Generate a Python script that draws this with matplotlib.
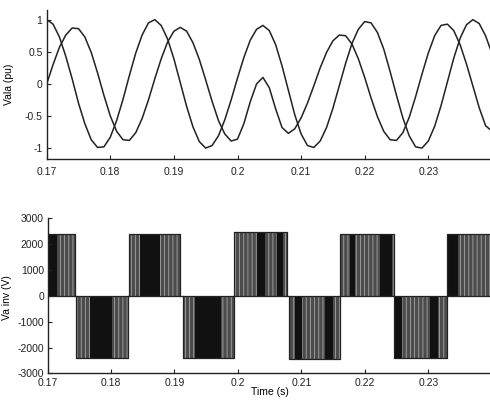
import matplotlib
matplotlib.use("Agg")
import matplotlib.pyplot as plt
import numpy as np

plt.rcParams["font.family"] = ["Liberation Sans", "DejaVu Sans"]
plt.rcParams["axes.unicode_minus"] = False
plt.rcParams["hatch.linewidth"] = 0.6

# time base of the per-unit waveforms (s), read every 1 ms
t = [0.170, 0.171, 0.172, 0.173, 0.174, 0.175, 0.176, 0.177, 0.178, 0.179,
     0.180, 0.181, 0.182, 0.183, 0.184, 0.185, 0.186, 0.187, 0.188, 0.189,
     0.190, 0.191, 0.192, 0.193, 0.194, 0.195, 0.196, 0.197, 0.198, 0.199,
     0.200, 0.201, 0.202, 0.203, 0.204, 0.205, 0.206, 0.207, 0.208, 0.209,
     0.210, 0.211, 0.212, 0.213, 0.214, 0.215, 0.216, 0.217, 0.218, 0.219,
     0.220, 0.221, 0.222, 0.223, 0.224, 0.225, 0.226, 0.227, 0.228, 0.229,
     0.230, 0.231, 0.232, 0.233, 0.234, 0.235, 0.236, 0.237, 0.238, 0.239,
     0.2398]

# first curve (starts at +1)
va_a = [1.00, 0.93, 0.73, 0.43, 0.08, -0.30, -0.62, -0.87, -0.99, -0.98,
        -0.83, -0.57, -0.24, 0.13, 0.48, 0.76, 0.95, 1.00, 0.91, 0.70,
        0.39, 0.02, -0.35, -0.67, -0.90, -1.00, -0.96, -0.81, -0.56, -0.25,
        0.09, 0.41, 0.68, 0.85, 0.91, 0.83, 0.61, 0.28, -0.10, -0.48,
        -0.78, -0.96, -0.99, -0.89, -0.68, -0.38, -0.03, 0.32, 0.63, 0.85,
        0.97, 0.95, 0.80, 0.54, 0.19, -0.18, -0.53, -0.81, -0.98, -1.00,
        -0.89, -0.66, -0.34, 0.03, 0.40, 0.71, 0.92, 1.00, 0.94, 0.75,
        0.53]

# second curve (starts at 0, disturbed near 0.204 s)
va_b = [0.00, 0.30, 0.57, 0.76, 0.87, 0.86, 0.73, 0.49, 0.17, -0.18,
        -0.50, -0.74, -0.87, -0.88, -0.76, -0.54, -0.25, 0.08, 0.39, 0.65,
        0.82, 0.88, 0.82, 0.64, 0.38, 0.06, -0.27, -0.57, -0.78, -0.89,
        -0.86, -0.62, -0.28, 0.00, 0.10, -0.06, -0.39, -0.68, -0.77, -0.70,
        -0.53, -0.30, -0.03, 0.25, 0.49, 0.67, 0.76, 0.75, 0.62, 0.39,
        0.10, -0.22, -0.51, -0.74, -0.87, -0.88, -0.76, -0.52, -0.20, 0.15,
        0.48, 0.75, 0.91, 0.93, 0.83, 0.61, 0.31, -0.03, -0.37, -0.65,
        -0.72]

# inverter output voltage: PWM blocks (start, end, level in V)
blk_start = [0.1700, 0.1745, 0.1829, 0.1913, 0.1994, 0.2081, 0.2161, 0.2246, 0.2330]
blk_end = [0.1743, 0.1827, 0.1909, 0.1994, 0.2077, 0.2161, 0.2245, 0.2329, 0.2397]
blk_level = [2400, -2400, 2400, -2400, 2470, -2460, 2400, -2400, 2400]

# densely switched (black) bands inside the blocks
dark_start = [0.1700, 0.1767, 0.1846, 0.1932, 0.2030, 0.2062, 0.2090, 0.2137,
              0.2177, 0.2224, 0.2246, 0.2303, 0.2331]
dark_end = [0.1715, 0.1802, 0.1877, 0.1974, 0.2043, 0.2071, 0.2101, 0.2150,
            0.2185, 0.2243, 0.2259, 0.2315, 0.2347]
dark_level = [2400, -2400, 2400, -2400, 2470, 2470, -2460, -2460,
              2400, 2400, -2400, -2400, 2400]

fig = plt.figure(figsize=(4.9, 4.04), dpi=100)
ax1 = fig.add_axes([0.0953, 0.6064, 0.9047, 0.3688])
ax2 = fig.add_axes([0.097, 0.0755, 0.903, 0.385])

ink = "#222222"

ax1.plot(t, va_a, color=ink, lw=1.1)
ax1.plot(t, va_b, color=ink, lw=1.1)
ax1.set_xlim(0.17, 0.2397)
ax1.set_ylim(-1.17, 1.15)
ax1.set_yticks([-1, -0.5, 0, 0.5, 1])
ax1.set_yticklabels(["-1", "-0.5", "0", "0.5", "1"])
ax1.set_ylabel("Vala (pu)", fontsize=7.5)
ax1.yaxis.set_label_coords(-0.074, 0.5)

for s, e, lv in zip(blk_start, blk_end, blk_level):
    ax2.fill_between([s, e], 0, lv, facecolor="#4c4c4c", edgecolor="#a6a6a6",
                     hatch="||||", lw=0)
    ax2.plot([s, s, e, e], [0, lv, lv, 0], color=ink, lw=0.9)
for s, e, lv in zip(dark_start, dark_end, dark_level):
    ax2.fill_between([s, e], 0, lv, facecolor="#111111", lw=0)
ax2.axhline(0, color=ink, lw=0.9)
ax2.set_xlim(0.17, 0.2397)
ax2.set_ylim(-3000, 3000)
ax2.set_yticks(np.arange(-3000, 3001, 1000))
ax2.set_ylabel("Va inv (V)", fontsize=7.5)
ax2.yaxis.set_label_coords(-0.080, 0.49)
ax2.set_xlabel("Time (s)", fontsize=7.5)
ax2.xaxis.set_label_coords(0.503, -0.088)

xt = [0.17, 0.18, 0.19, 0.2, 0.21, 0.22, 0.23]
xtl = ["0.17", "0.18", "0.19", "0.2", "0.21", "0.22", "0.23"]
for ax in (ax1, ax2):
    ax.set_xticks(xt)
    ax.set_xticklabels(xtl)
    for side in ("top", "right"):
        ax.spines[side].set_visible(False)
    for side in ("left", "bottom"):
        ax.spines[side].set_linewidth(1.0)
        ax.spines[side].set_color(ink)
    ax.tick_params(direction="in", length=3, width=0.8, labelsize=7.5,
                   colors=ink)
ax1.tick_params(axis="x", pad=5.5)
ax1.tick_params(axis="y", pad=3)
ax2.tick_params(axis="x", pad=3.5)
ax2.tick_params(axis="y", pad=2.5)

fig.savefig("out.png", dpi=100)
